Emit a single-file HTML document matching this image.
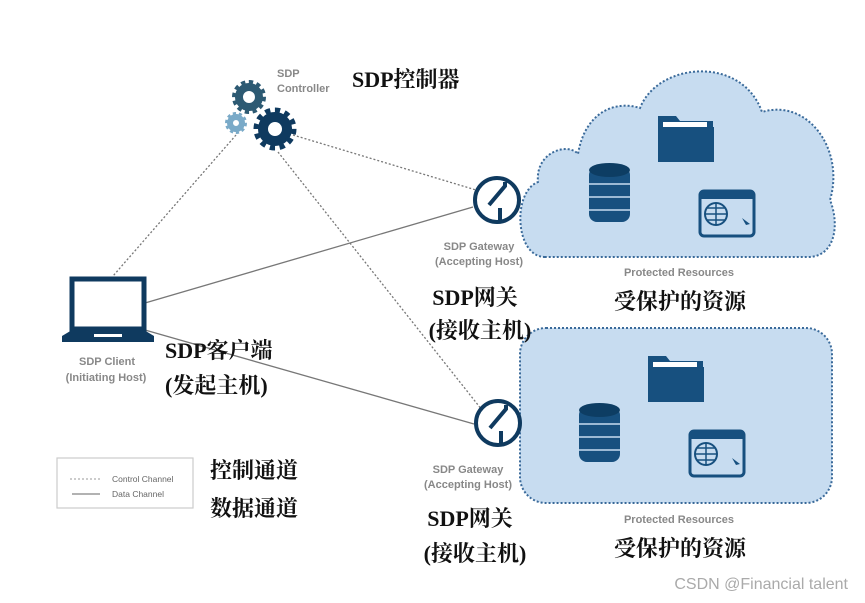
<!DOCTYPE html>
<html><head><meta charset="utf-8"><style>
body{margin:0;background:#fff;}
.c{font-family:"Liberation Serif","Noto Serif CJK SC",serif;font-weight:bold;fill:#111;}
.s{font-family:"Liberation Sans",sans-serif;fill:#888;font-weight:bold;}
</style></head><body>
<svg width="865" height="598" viewBox="0 0 865 598" xmlns="http://www.w3.org/2000/svg">
<!-- cloud -->
<path d="M545 257 C515 257 512 192 538 182 C535 152 568 142 578 154 C585 112 615 100 640 108 C658 62 742 55 762 112 C808 98 845 150 830 200 C840 225 835 257 808 257 Z" fill="#c7dcf0" stroke="#3a6a9a" stroke-width="2" stroke-dasharray="2 2"/>
<!-- box 2 -->
<rect x="520" y="328" width="312" height="175" rx="26" fill="#c7dcf0" stroke="#3a6a9a" stroke-width="2" stroke-dasharray="2 2"/>
<!-- lines -->
<g stroke="#777" stroke-width="1.3" fill="none">
<line x1="236" y1="135" x2="113" y2="276" stroke-dasharray="2 2"/>
<line x1="293" y1="135" x2="476" y2="190" stroke-dasharray="2 2"/>
<line x1="278" y1="152" x2="482" y2="410" stroke-dasharray="2 2"/>
<line x1="145" y1="303" x2="473" y2="207"/>
<line x1="145" y1="330" x2="474" y2="424"/>
</g>
<!-- gears -->
<g>
<circle cx="249" cy="97" r="10" fill="none" stroke="#2d5a73" stroke-width="8"/>
<circle cx="249" cy="97" r="14" fill="none" stroke="#2d5a73" stroke-width="6" stroke-dasharray="4 3.3"/>
<circle cx="236" cy="123" r="6" fill="none" stroke="#7aaac8" stroke-width="6"/>
<circle cx="236" cy="123" r="9" fill="none" stroke="#7aaac8" stroke-width="4" stroke-dasharray="3 2.6"/>
<circle cx="275" cy="129" r="12" fill="none" stroke="#0f3a5f" stroke-width="10"/>
<circle cx="275" cy="129" r="18" fill="none" stroke="#0f3a5f" stroke-width="7" stroke-dasharray="5 4.4"/>
</g>
<!-- gateways -->
<g fill="none" stroke="#0f3a5f" stroke-width="4">
<circle cx="497" cy="200" r="22"/>
<path d="M505 182 L505 186 L489 205 M500 208 L500 222"/>
<circle cx="498" cy="423" r="22"/>
<path d="M506 405 L506 409 L490 428 M501 431 L501 445"/>
</g>
<!-- laptop -->
<rect x="72" y="279" width="72" height="50" fill="none" stroke="#0f3a5f" stroke-width="5"/>
<path d="M62 336 L72 330 L144 330 L154 336 L154 342 L62 342 Z" fill="#0f3a5f"/>
<rect x="94" y="334" width="28" height="3" fill="#fff"/>
<!-- resources icons -->
<g id="res" fill="#17507f">
<path d="M658 116 h18 l4 5 h33 v40 h-55 z"/>
<rect x="663" y="122" width="44" height="6" fill="#fff"/>
<rect x="658" y="127" width="56" height="35"/>
<rect x="589" y="167" width="41" height="55" rx="8"/>
<ellipse cx="609.5" cy="170" rx="20.5" ry="7" fill="#0d3d63"/>
<g stroke="#c7dcf0" stroke-width="1.5"><line x1="589" y1="184" x2="630" y2="184"/><line x1="589" y1="197" x2="630" y2="197"/><line x1="589" y1="210" x2="630" y2="210"/></g>
<rect x="700" y="191" width="54" height="45" rx="4" fill="none" stroke="#17507f" stroke-width="3"/>
<rect x="700" y="191" width="54" height="8"/>
<circle cx="716" cy="214" r="11" fill="none" stroke="#17507f" stroke-width="2"/>
<path d="M705 214 h22 M716 203 v22 M707 208 h18 M707 220 h18" stroke="#17507f" stroke-width="1.5"/>
<path d="M742 218 l8 6 l-4 1 z"/>
</g>
<use href="#res" transform="translate(-10 240)"/>
<!-- texts -->
<text x="277" y="77" class="s" font-size="11">SDP</text>
<text x="277" y="92" class="s" font-size="11">Controller</text>
<text x="352" y="87" class="c" font-size="22">SDP控制器</text>
<text x="479" y="250" class="s" font-size="11" text-anchor="middle">SDP Gateway</text>
<text x="479" y="265" class="s" font-size="11" text-anchor="middle">(Accepting Host)</text>
<text x="475" y="305" class="c" font-size="22" text-anchor="middle">SDP网关</text>
<text x="480" y="338" class="c" font-size="22" text-anchor="middle">(接收主机)</text>
<text x="679" y="276" class="s" font-size="11" text-anchor="middle">Protected Resources</text>
<text x="680" y="309" class="c" font-size="22" text-anchor="middle">受保护的资源</text>
<text x="107" y="365" class="s" font-size="11" text-anchor="middle">SDP Client</text>
<text x="106" y="381" class="s" font-size="11" text-anchor="middle">(Initiating Host)</text>
<text x="165" y="358" class="c" font-size="22">SDP客户端</text>
<text x="165" y="393" class="c" font-size="22">(发起主机)</text>
<text x="468" y="473" class="s" font-size="11" text-anchor="middle">SDP Gateway</text>
<text x="468" y="488" class="s" font-size="11" text-anchor="middle">(Accepting Host)</text>
<text x="470" y="526" class="c" font-size="22" text-anchor="middle">SDP网关</text>
<text x="475" y="561" class="c" font-size="22" text-anchor="middle">(接收主机)</text>
<text x="679" y="523" class="s" font-size="11" text-anchor="middle">Protected Resources</text>
<text x="680" y="556" class="c" font-size="22" text-anchor="middle">受保护的资源</text>
<rect x="57" y="458" width="136" height="50" fill="none" stroke="#ccc" stroke-width="1.2"/>
<line x1="70" y1="479" x2="100" y2="479" stroke="#999" stroke-dasharray="2 2"/>
<line x1="72" y1="494" x2="100" y2="494" stroke="#999" stroke-width="1.5"/>
<text x="112" y="482" font-family="Liberation Sans,sans-serif" font-size="8.5" fill="#666">Control Channel</text>
<text x="112" y="497" font-family="Liberation Sans,sans-serif" font-size="8.5" fill="#666">Data Channel</text>
<text x="210" y="478" class="c" font-size="22">控制通道</text>
<text x="210" y="516" class="c" font-size="22">数据通道</text>
<text x="848" y="589" font-family="Liberation Sans,sans-serif" font-size="16" fill="#aaa" text-anchor="end">CSDN @Financial talent</text>
</svg>
</body></html>
